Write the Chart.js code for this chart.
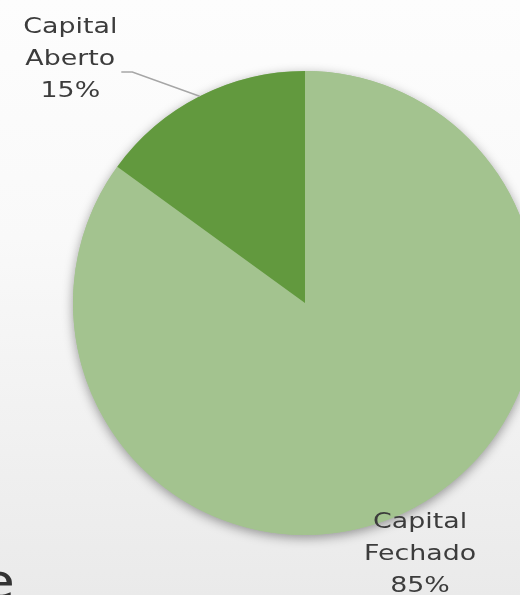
<!DOCTYPE html>
<html>
<head>
<meta charset="utf-8">
<script src="https://cdn.jsdelivr.net/npm/chart.js@4/dist/chart.umd.min.js"></script>
<style>
html,body{margin:0;padding:0;width:520px;height:595px;overflow:hidden;}
body{background:linear-gradient(to bottom,#fdfdfd 0%,#f9f9f9 40%,#eaeaea 100%);}
#wrap{position:relative;width:600px;height:595px;}
</style>
</head>
<body>
<div id="wrap"><canvas id="c" width="600" height="595"></canvas></div>
<script>
const categories = ['Capital Fechado', 'Capital Aberto'];
const labelLines = [['Capital', 'Fechado'], ['Capital', 'Aberto']];
const values = [85, 15];
const colors = ['#A3C38F', '#62993E'];

const FONT = '"DejaVu Sans", sans-serif';
const TEXT = '#3c3c3c';

const shadowPlugin = {
  id: 'shadow',
  beforeDatasetsDraw(chart) {
    const arc = chart.getDatasetMeta(0).data[0];
    if (!arc) return;
    const ctx = chart.ctx;
    ctx.save();
    ctx.shadowColor = 'rgba(0,0,0,0.38)';
    ctx.shadowBlur = 11;
    ctx.shadowOffsetX = 0;
    ctx.shadowOffsetY = 3;
    ctx.fillStyle = colors[0];
    ctx.beginPath();
    ctx.arc(arc.x, arc.y, arc.outerRadius, 0, Math.PI * 2);
    ctx.fill();
    ctx.restore();
  }
};

function wideText(ctx, t, x, y) {
  ctx.save();
  ctx.translate(x, y);
  ctx.scale(1.22, 1);
  ctx.fillText(t, 0, 0);
  ctx.restore();
}

const labelPlugin = {
  id: 'labels',
  afterDatasetsDraw(chart) {
    const ctx = chart.ctx;
    const meta = chart.getDatasetMeta(0);
    const total = values.reduce((a, b) => a + b, 0);
    ctx.save();
    ctx.font = '22px ' + FONT;
    ctx.fillStyle = TEXT;
    ctx.textAlign = 'center';
    ctx.textBaseline = 'middle';
    const lh = 32;
    meta.data.forEach((arc, i) => {
      const mid = (arc.startAngle + arc.endAngle) / 2;
      const r = arc.outerRadius;
      const lines = labelLines[i].concat([Math.round(values[i] / total * 100) + '%']);
      let cx, cy;
      if (i === 1) {
        const ex = arc.x + Math.cos(mid) * r;
        const ey = arc.y + Math.sin(mid) * r;
        const bx = arc.x + Math.cos(mid) * r * 1.1 - 0.245 * r;
        const by = ey - 0.105 * r;
        ctx.strokeStyle = '#a6a6a6';
        ctx.lineWidth = 1.5;
        ctx.beginPath();
        ctx.moveTo(ex, ey);
        ctx.lineTo(bx, by);
        ctx.lineTo(bx - 11, by);
        ctx.stroke();
        cx = bx - 62;
        cy = by - 13;
      } else {
        cx = arc.x + Math.cos(mid) * r * 1.04 + 5.5;
        cy = arc.y + Math.sin(mid) * r * 1.04 + 36;
      }
      lines.forEach((t, k) => {
        wideText(ctx, t, cx, cy + (k - 1) * lh);
      });
    });
    ctx.font = '48px ' + FONT;
    ctx.textAlign = 'right';
    ctx.textBaseline = 'alphabetic';
    ctx.fillStyle = '#333333';
    wideText(ctx, 'e', 15, 598);
    ctx.restore();
  }
};

new Chart(document.getElementById('c'), {
  type: 'pie',
  data: {
    labels: categories,
    datasets: [{
      data: values,
      backgroundColor: colors,
      borderWidth: 0,
      hoverOffset: 0
    }]
  },
  options: {
    responsive: false,
    animation: false,
    events: [],
    layout: { padding: { left: 73, right: 63, top: 71, bottom: 60 } },
    plugins: {
      legend: { display: false },
      tooltip: { enabled: false }
    }
  },
  plugins: [shadowPlugin, labelPlugin]
});
</script>
</body>
</html>
